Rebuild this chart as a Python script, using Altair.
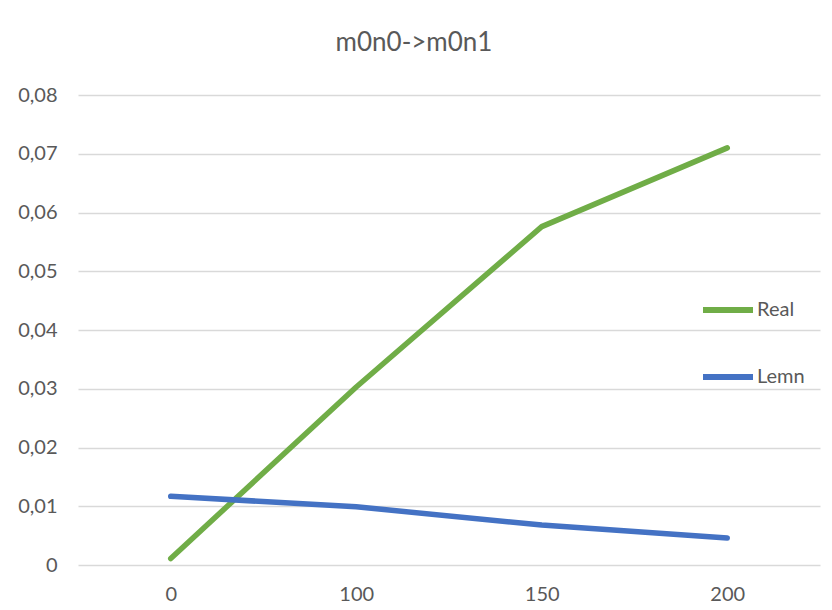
import altair as alt
import pandas as pd

categories = ["0", "100", "150", "200"]
real = [0.0011, 0.0303, 0.0576, 0.0710]
lemn = [0.0117, 0.0099, 0.0068, 0.0046]
series_names = ["Real", "Lemn"]
series_colors = ["#70AD47", "#4472C4"]

rows = []
for c, v in zip(categories, real):
    rows.append({"x": c, "y": v, "s": "Real"})
for c, v in zip(categories, lemn):
    rows.append({"x": c, "y": v, "s": "Lemn"})
df = pd.DataFrame(rows)

FONT = "Lato"
TXT = "#595959"

chart = alt.Chart(df).mark_line(strokeWidth=5.5, strokeCap="round", strokeJoin="round").encode(
    x=alt.X("x:O", sort=categories, title=None,
            scale=alt.Scale(type="point", padding=0.5),
            axis=alt.Axis(labelAngle=0, ticks=False, domain=False, grid=False,
                          labelPadding=19, labelFontSize=20, labelColor=TXT, labelFont=FONT)),
    y=alt.Y("y:Q", title=None,
            scale=alt.Scale(domain=[0, 0.08], nice=False),
            axis=alt.Axis(values=[0, 0.01, 0.02, 0.03, 0.04, 0.05, 0.06, 0.07, 0.08],
                          labelExpr="datum.value == 0 ? '0' : replace(format(datum.value, '.2f'), '.', ',')",
                          ticks=False, domain=False, grid=True, gridColor="#D9D9D9", gridWidth=1.5,
                          labelPadding=21, labelFontSize=20, labelColor=TXT, labelFont=FONT)),
    color=alt.Color("s:N", sort=series_names,
                    scale=alt.Scale(domain=series_names, range=series_colors),
                    legend=alt.Legend(title=None, orient="none", legendX=622, legendY=187,
                                      symbolType="stroke", symbolSize=2500, symbolStrokeWidth=6,
                                      labelFontSize=20, labelColor=TXT, labelFont=FONT,
                                      rowPadding=27, labelOffset=1)),
).properties(
    width=742, height=470,
    title=alt.Title("m0n0->m0n1", fontSize=26, font=FONT, color=TXT, fontWeight="normal",
                    anchor="middle", dx=-35, offset=29),
    padding={"left": 70, "top": 87, "right": 4, "bottom": 44},
    autosize=alt.AutoSizeParams(type="none"),
).configure_view(stroke=None)

chart.save("out.html", embed_options={"renderer": "svg", "actions": False})
